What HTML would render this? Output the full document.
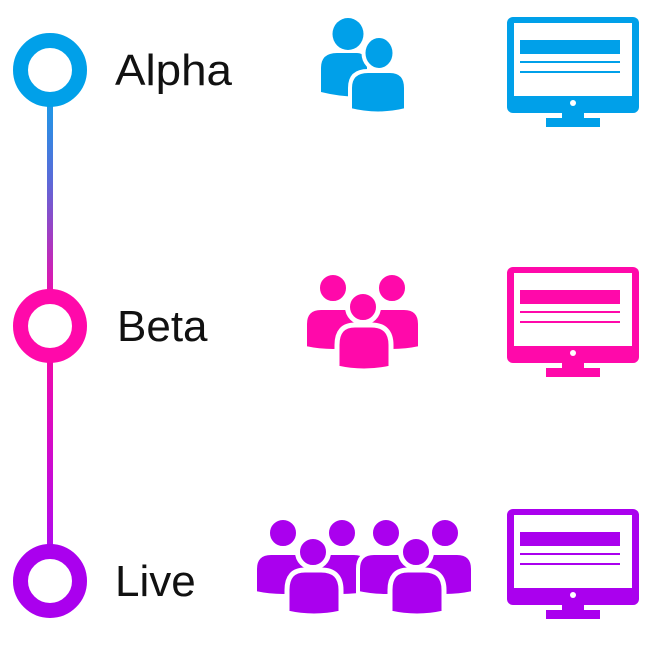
<!DOCTYPE html>
<html><head><meta charset="utf-8"><style>
html,body{margin:0;padding:0;background:#fff;width:653px;height:661px;overflow:hidden}
svg{display:block}
text{font-family:"Liberation Sans",sans-serif;font-size:44px;fill:#111}
</style></head><body>
<svg width="653" height="661" viewBox="0 0 653 661" xmlns="http://www.w3.org/2000/svg">
<defs>
<linearGradient id="g1" x1="0" y1="100" x2="0" y2="300" gradientUnits="userSpaceOnUse">
<stop offset="0" stop-color="#1a9be8"/><stop offset="0.4" stop-color="#5a6ad8"/><stop offset="1" stop-color="#f20aaa"/></linearGradient>
<linearGradient id="g2" x1="0" y1="360" x2="0" y2="550" gradientUnits="userSpaceOnUse">
<stop offset="0" stop-color="#f00aaa"/><stop offset="1" stop-color="#b00aee"/></linearGradient>
<g id="mon">
<rect x="507" y="17" width="132" height="96" rx="6"/>
<rect x="514" y="23" width="118" height="73" fill="#fff"/>
<rect x="520" y="40" width="100" height="14"/>
<rect x="520" y="61" width="100" height="2"/>
<rect x="520" y="71" width="100" height="2"/>
<circle cx="573" cy="103" r="3" fill="#fff"/>
<rect x="562" y="113" width="22" height="6"/>
<rect x="546" y="118" width="54" height="9"/>
</g>
<g id="grp">
<circle cx="0" cy="0" r="15" stroke="#fff" stroke-width="4"/>
<circle cx="59" cy="0" r="15" stroke="#fff" stroke-width="4"/>
<path d="M-28 60 L-28 36 Q-28 20 -12 20 L12 20 Q28 20 28 36 L28 60 Q0 66 -28 60Z" stroke="#fff" stroke-width="4"/>
<path d="M31 60 L31 36 Q31 20 47 20 L71 20 Q87 20 87 36 L87 60 Q59 66 31 60Z" stroke="#fff" stroke-width="4"/>
<path d="M4 80 L4 57 Q4 37 22 37 L38 37 Q58 37 58 57 L58 80 Q31 86 4 80Z" stroke="#fff" stroke-width="5"/>
<circle cx="30" cy="19" r="15.5" stroke="#fff" stroke-width="5"/>
</g>
</defs>

<rect x="47" y="105" width="6" height="190" fill="url(#g1)"/>
<rect x="47" y="355" width="6" height="195" fill="url(#g2)"/>

<circle cx="50" cy="70" r="29.5" fill="#fff" stroke="#00a0e9" stroke-width="15"/>
<circle cx="50" cy="326" r="29.5" fill="#fff" stroke="#ff09aa" stroke-width="15"/>
<circle cx="50" cy="581" r="29.5" fill="#fff" stroke="#aa00ee" stroke-width="15"/>

<text x="115" y="85" textLength="117" lengthAdjust="spacingAndGlyphs">Alpha</text>
<text x="117" y="341">Beta</text>
<text x="115" y="596">Live</text>

<g fill="#00a0e9">
<ellipse cx="348" cy="34" rx="15.5" ry="16"/>
<path d="M321 92 L321 68 Q321 53 337 53 L357 53 Q367 53 367 68 L367 96 Q345 98 321 92Z"/>
<path d="M350 110 L350 88 Q350 71 368 71 L390 71 Q406 71 406 88 L406 110 Q378 117 350 110Z" stroke="#fff" stroke-width="4"/>
<ellipse cx="379" cy="53" rx="15.5" ry="17" stroke="#fff" stroke-width="4"/>
</g>

<g fill="#ff09aa"><use href="#grp" transform="translate(333,288)"/></g>
<g fill="#aa00ee"><use href="#grp" transform="translate(283,533)"/><use href="#grp" transform="translate(386,533)"/></g>

<g fill="#00a0e9"><use href="#mon"/></g>
<g fill="#ff09aa"><use href="#mon" transform="translate(0,250)"/></g>
<g fill="#aa00ee"><use href="#mon" transform="translate(0,492)"/></g>
</svg>
</body></html>
